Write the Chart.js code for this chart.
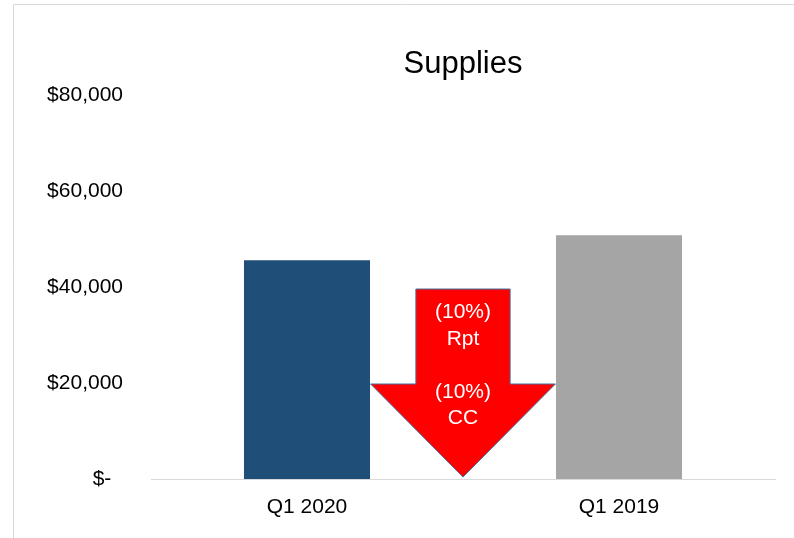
<!DOCTYPE html>
<html>
<head>
<meta charset="utf-8">
<script src="https://cdn.jsdelivr.net/npm/chart.js@4"></script>
<style>
  html, body { margin: 0; padding: 0; background: #ffffff; }
  canvas { display: block; }
</style>
</head>
<body>
<canvas id="c" width="794" height="538"></canvas>
<script>
// ---- data ----
const categories = ['Q1 2020', 'Q1 2019'];
const supplies = [45600, 50800];
const barColors = ['#1F4E79', '#A5A5A5'];
const yTickValues = [0, 20000, 40000, 60000, 80000];
const yTickLabels = ['$-', '$20,000', '$40,000', '$60,000', '$80,000'];
const chartTitle = 'Supplies';
const arrowLabelsTop = ['(10%)', 'Rpt'];
const arrowLabelsBottom = ['(10%)', 'CC'];
// arrow levels in data units: shaft top, head start, tip
const arrowLevels = [39600, 19800, 400];

const FONT = "'Liberation Sans', Arial, sans-serif";

const framePlugin = {
  id: 'frame',
  beforeDraw(chart) {
    const ctx = chart.ctx;
    ctx.save();
    ctx.fillStyle = '#ffffff';
    ctx.fillRect(0, 0, chart.width, chart.height);
    ctx.strokeStyle = '#D9D9D9';
    ctx.lineWidth = 1;
    ctx.beginPath();
    ctx.moveTo(13.5, chart.height);
    ctx.lineTo(13.5, 4.5);
    ctx.lineTo(chart.width, 4.5);
    ctx.stroke();
    ctx.restore();
  }
};

const arrowPlugin = {
  id: 'arrow',
  afterDatasetsDraw(chart) {
    const xs = chart.scales.x, ys = chart.scales.y;
    const ctx = chart.ctx;
    const cx = xs.getPixelForValue(0.5);
    const unit = xs.getPixelForValue(1) - xs.getPixelForValue(0);
    const sw = unit * 0.151, hw = unit * 0.296;
    const yTop = ys.getPixelForValue(arrowLevels[0]);
    const yHead = ys.getPixelForValue(arrowLevels[1]);
    const yTip = ys.getPixelForValue(arrowLevels[2]);
    ctx.save();
    ctx.beginPath();
    ctx.moveTo(cx - sw, yTop);
    ctx.lineTo(cx + sw, yTop);
    ctx.lineTo(cx + sw, yHead);
    ctx.lineTo(cx + hw, yHead);
    ctx.lineTo(cx, yTip);
    ctx.lineTo(cx - hw, yHead);
    ctx.lineTo(cx - sw, yHead);
    ctx.closePath();
    ctx.fillStyle = '#FF0000';
    ctx.fill();
    ctx.strokeStyle = '#41719C';
    ctx.lineWidth = 1;
    ctx.stroke();
    ctx.fillStyle = '#FFFFFF';
    ctx.font = '21px ' + FONT;
    ctx.textAlign = 'center';
    ctx.textBaseline = 'middle';
    ctx.fillText(arrowLabelsTop[0], cx, yTop + 23);
    ctx.fillText(arrowLabelsTop[1], cx, yTop + 50);
    ctx.fillText(arrowLabelsBottom[0], cx, yHead + 8);
    ctx.fillText(arrowLabelsBottom[1], cx, yHead + 34);
    ctx.restore();
  }
};

new Chart(document.getElementById('c'), {
  type: 'bar',
  data: {
    labels: categories,
    datasets: [{
      label: chartTitle,
      data: supplies,
      backgroundColor: barColors,
      borderWidth: 0,
      barPercentage: 0.404,
      categoryPercentage: 1.0
    }]
  },
  options: {
    responsive: false,
    animation: false,
    layout: { padding: { left: 0, right: 19, top: 0, bottom: 0 } },
    plugins: {
      legend: { display: false },
      tooltip: { enabled: false },
      title: {
        display: true,
        text: chartTitle,
        fullSize: false,
        color: '#000000',
        font: { family: FONT, size: 31, weight: 'normal' },
        padding: { top: 46, bottom: 12 }
      }
    },
    scales: {
      x: {
        grid: { display: false, drawTicks: false },
        border: { display: true, color: '#D9D9D9', width: 1 },
        ticks: {
          color: '#000000',
          font: { family: FONT, size: 21 },
          padding: 16,
          maxRotation: 0
        },
        afterFit(scale) { scale.height = 59; }
      },
      y: {
        min: 0,
        max: 80000,
        grid: { display: false, drawTicks: false },
        border: { display: false },
        afterBuildTicks(scale) {
          scale.ticks = yTickValues.map(v => ({ value: v }));
        },
        ticks: {
          color: '#000000',
          font: { family: FONT, size: 21 },
          padding: 28,
          callback(value) {
            const i = yTickValues.indexOf(value);
            const lbl = i >= 0 ? yTickLabels[i] : '';
            return value === 0 ? lbl + '  ' : lbl;
          }
        },
        afterFit(scale) { scale.width = 151; }
      }
    }
  },
  plugins: [framePlugin, arrowPlugin]
});
</script>
</body>
</html>
